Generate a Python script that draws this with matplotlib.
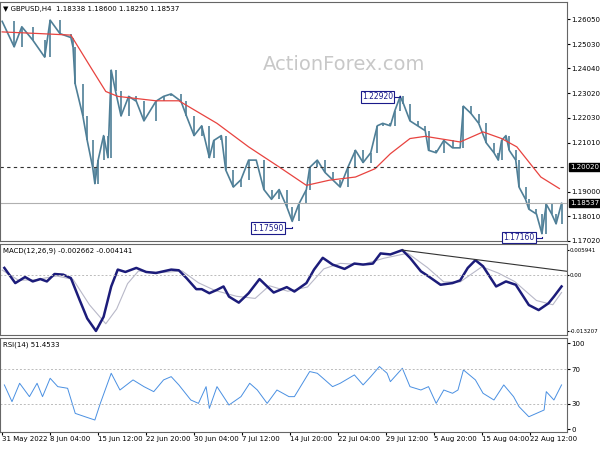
import matplotlib
matplotlib.use("Agg")
import matplotlib.pyplot as plt
import numpy as np

# time ticks (bar index of 4H bars)
tick_bars = [0, 44, 88, 132, 176, 220, 264, 308, 352, 396, 440, 484]
tick_labels = ["31 May 2022", "8 Jun 04:00", "15 Jun 12:00", "22 Jun 20:00", "30 Jun 04:00",
               "7 Jul 12:00", "14 Jul 20:00", "22 Jul 04:00", "29 Jul 12:00", "5 Aug 20:00",
               "15 Aug 04:00", "22 Aug 12:00"]

price_bar = [0,11,18,28,39,44,53,63,65,67,74,78,83,85,88,93,97,100,104,109,116,123,130,141,148,155,164,169,
             176,183,190,194,201,205,212,219,226,233,240,247,254,261,266,272,279,282,289,296,303,310,317,324,
             331,338,344,349,356,360,365,368,374,381,388,391,398,405,413,420,423,430,437,444,451,455,458,462,
             465,471,474,480,483,490,495,499,504,508,513]
price = [1.2596,1.2492,1.2574,1.2520,1.2450,1.2601,1.2546,1.2530,1.2490,1.2340,1.2210,1.2110,1.2000,1.1934,
         1.2030,1.2130,1.2040,1.2397,1.2310,1.2210,1.2290,1.2270,1.2190,1.2270,1.2290,1.2300,1.2270,1.2210,
         1.2130,1.2170,1.2040,1.2110,1.2130,1.1990,1.1920,1.1950,1.2030,1.2030,1.1910,1.1870,1.1910,1.1840,
         1.1780,1.1850,1.1910,1.2000,1.2030,1.1980,1.1950,1.1920,1.2000,1.2070,1.2020,1.2060,1.2170,1.2180,
         1.2170,1.2230,1.2290,1.2260,1.2190,1.2170,1.2150,1.2070,1.2060,1.2110,1.2080,1.2080,1.2250,1.2220,
         1.2180,1.2100,1.2060,1.2030,1.2110,1.2130,1.2070,1.2030,1.1920,1.1870,1.1830,1.1810,1.1730,1.1850,
         1.1810,1.1770,1.18537]

ma_bar = [0,35,63,81,95,106,141,162,197,226,254,279,300,324,342,356,374,388,420,441,458,472,494,511]
ma = [1.2553,1.2546,1.2540,1.2410,1.2310,1.2290,1.2272,1.2272,1.2180,1.2084,1.2002,1.1927,1.1948,1.1961,
      1.1995,1.2056,1.2118,1.2127,1.2104,1.2145,1.2118,1.2084,1.1961,1.1914]

macd_bar = [2,12,21,28,35,41,48,56,63,71,78,86,93,100,106,113,123,132,141,155,162,169,178,183,190,197,203,
            208,217,226,236,243,249,261,268,279,286,294,303,314,323,331,340,347,356,367,374,384,391,402,413,
            420,427,434,441,453,462,471,483,492,501,506,513]
macd = [0.00172,-0.00187,-0.00044,-0.00148,-0.00092,-0.00148,0.00028,0.00012,-0.00068,-0.00586,-0.01025,
        -0.01320,-0.00985,-0.00267,0.00132,0.00076,0.00172,0.00076,0.00052,0.00132,0.00116,-0.00068,-0.00331,
        -0.00331,-0.00427,-0.00347,-0.00267,-0.00507,-0.00650,-0.00427,-0.00092,-0.00267,-0.00411,-0.00283,
        -0.00387,-0.00187,0.00132,0.00411,0.00251,0.00148,0.00275,0.00251,0.00275,0.00515,0.00491,0.00594,
        0.00411,0.00092,-0.00028,-0.00227,-0.00187,-0.00124,0.00172,0.00355,0.00211,-0.00267,-0.00148,
        -0.00227,-0.00706,-0.00826,-0.00666,-0.00507,-0.00267]
sig_bar = [0,15,30,50,65,80,95,105,115,125,145,165,180,195,215,232,245,262,280,295,310,330,350,372,390,405,
           420,440,455,470,490,505,513]
sig = [0.0012,-0.0012,-0.0011,-0.0002,-0.0010,-0.0070,-0.0115,-0.0080,-0.0020,0.0010,0.0006,0.0010,-0.0018,
       -0.0036,-0.0050,-0.0055,-0.0025,-0.0038,-0.0028,0.0015,0.0028,0.0025,0.0040,0.0052,0.0018,-0.0016,
       -0.0016,0.0020,0.0005,-0.0015,-0.0060,-0.0070,-0.0041]

rsi_bar = [2,9,16,25,32,37,44,51,60,67,76,85,90,100,108,120,130,139,148,155,162,173,180,187,190,197,208,219,
           227,234,243,252,263,268,282,289,296,303,310,323,331,338,346,353,356,367,374,384,391,398,405,413,
           418,423,434,441,451,460,469,474,483,490,497,499,506,513]
rsi = [51.6,32.2,53.5,38,53.5,38,59.3,49.6,47.7,18.6,14.7,10.9,30.2,65.1,45.7,57.4,49.6,43.8,57.4,61.2,51.6,
       34.1,30.2,49.6,24.4,49.6,28.3,38,53.5,45.7,30.2,45.7,38,38,67.1,65.1,57.4,49.6,53.5,63.2,51.6,61.2,
       72.9,65.1,55.4,70.9,49.6,45.7,49.6,30.2,45.7,41.9,45.7,69,57.4,41.9,34.1,51.6,38,26.4,14.7,18.6,22.5,
       43.8,34.1,51.6]

price_ticks = [1.2605, 1.2503, 1.2404, 1.2302, 1.2203, 1.2101, 1.1900, 1.1801, 1.1702]

fig = plt.figure(figsize=(6, 4.5), dpi=100)
W = 567 / 600
ax1 = fig.add_axes([0.0, 1 - 241 / 450, W, 239 / 450])
ax2 = fig.add_axes([0.0, 1 - 335 / 450, W, 91 / 450])
ax3 = fig.add_axes([0.0, 1 - 432 / 450, W, 94 / 450])
XL = (-2, 518)
fs = 5

# main
pb = np.array(price_bar); pv = np.array(price)
ax1.plot(pb, pv, color="#4f7f97", lw=1.2)
ax1.vlines(pb[1:], np.minimum(pv[:-1], pv[1:]), np.maximum(pv[:-1], pv[1:]), color="#4f7f97", lw=1.2)
ax1.plot(ma_bar, ma, color="#e8433f", lw=0.9)
ax1.axhline(1.2002, color="#333333", lw=0.8, ls=(0, (3, 3)))
ax1.axhline(price[-1], color="#b0b0b0", lw=0.8)
ax1.set_xlim(*XL); ax1.set_ylim(1.1700, 1.2675)
ax1.yaxis.tick_right()
ax1.set_yticks(price_ticks)
ax1.set_yticklabels([f"{v:.5f}" for v in price_ticks], fontsize=fs)
ax1.set_xticks([])
for lab, v in [("1.20020", 1.2002), (f"{price[-1]:.5f}", price[-1])]:
    ax1.text(1.006, (v - 1.1700) / (1.2675 - 1.1700), lab, transform=ax1.transAxes, fontsize=fs,
             color="white", va="center", ha="left",
             bbox=dict(boxstyle="square,pad=0.15", fc="black", ec="black"))
ax1.text(0.607, 0.74, "ActionForex.com", transform=ax1.transAxes, fontsize=14, color="#c8c8c8",
         ha="center", va="center")
ax1.text(0.005, 0.985, "\u25bc GBPUSD,H4  1.18338 1.18600 1.18250 1.18537", transform=ax1.transAxes,
         fontsize=fs, va="top", ha="left")
for txt, bx, by, tx in [("1.22920", 344, 1.2288, 365), ("1.17590", 244, 1.1753, 266), ("1.17160", 474, 1.1713, 495)]:
    v = float(txt)
    ax1.plot([bx + 13, tx, tx], [by, by, v], color="#1a1a8a", lw=0.8)
    ax1.text(bx, by, txt, fontsize=fs + 0.5, color="#1a1a8a", ha="center", va="center",
             bbox=dict(boxstyle="square,pad=0.15", fc="white", ec="#1a1a8a", lw=0.8))

# macd
ax2.plot(sig_bar, sig, color="#b8b8c8", lw=0.8)
ax2.plot(macd_bar, macd, color="#1c1c7a", lw=1.8)
ax2.axhline(0, color="#bbbbbb", lw=0.7, ls=(0, (2, 2)))
ax2.plot([367, 518], [0.00594, 0.00092], color="#333333", lw=0.8)
ax2.set_xlim(*XL); ax2.set_ylim(-0.01416, 0.00738)
ax2.yaxis.tick_right()
ax2.set_yticks([0.005941, 0.0, -0.013207])
ax2.set_yticklabels(["0.005941", "0.00", "-0.013207"], fontsize=4.1)
ax2.set_xticks([])
ax2.text(0.005, 0.96, "MACD(12,26,9) -0.002662 -0.004141", transform=ax2.transAxes, fontsize=fs,
         va="top", ha="left")

# rsi
ax3.plot(rsi_bar, rsi, color="#4a90e2", lw=0.7)
for lv in (70, 30):
    ax3.axhline(lv, color="#bbbbbb", lw=0.7, ls=(0, (2, 2)))
ax3.set_xlim(*XL); ax3.set_ylim(-3, 106)
ax3.yaxis.tick_right()
ax3.set_yticks([100, 70, 30, 0])
ax3.set_yticklabels(["100", "70", "30", "0"], fontsize=fs)
ax3.set_xticks(tick_bars)
ax3.set_xticklabels(tick_labels, fontsize=fs, ha="left")
ax3.text(0.005, 0.96, "RSI(14) 51.4533", transform=ax3.transAxes, fontsize=fs, va="top", ha="left")

for ax in (ax1, ax2, ax3):
    for s in ax.spines.values():
        s.set_color("#666666"); s.set_linewidth(0.8)
    ax.tick_params(length=2, pad=1, colors="black")
ax2.tick_params(axis="y", pad=0.3, length=1.5)

fig.savefig("out.png", dpi=100)
